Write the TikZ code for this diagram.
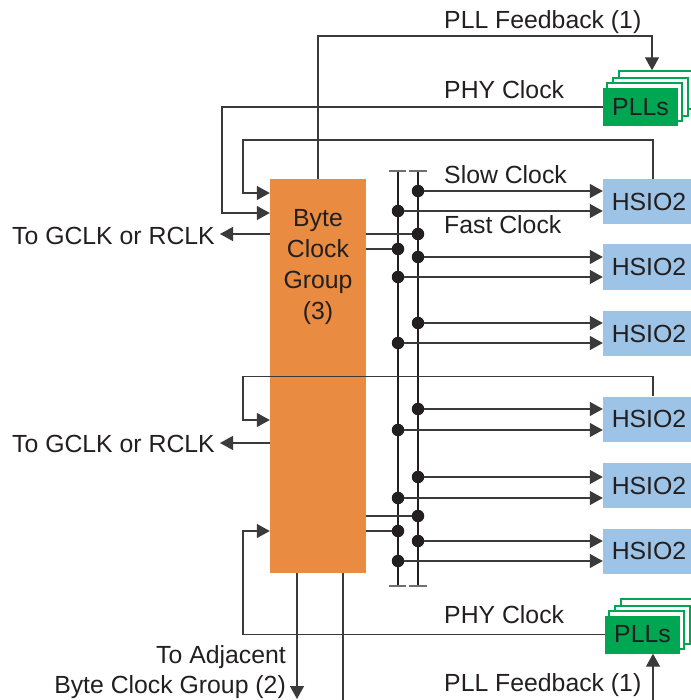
\documentclass[tikz,border=0pt]{standalone}
\usepackage{fontspec}
\setmainfont{Liberation Sans}
\usetikzlibrary{arrows.meta}
\definecolor{bytefill}{HTML}{E98B40}
\definecolor{hsiofill}{HTML}{9DC3E6}
\definecolor{pllfill}{HTML}{00A651}
\definecolor{ink}{HTML}{231F20}
\definecolor{wire}{HTML}{3A3A3A}
\definecolor{barcol}{HTML}{707070}

\begin{document}
\begin{tikzpicture}[x=1pt,y=-1pt,
  lbl/.style={inner sep=0pt, text=ink, font=\fontsize{24.8}{29}\selectfont},
  wirel/.style={draw=wire, line width=1.3pt},
  arr/.style={wirel, -{Triangle[length=13pt,width=14pt]}},
  dotc/.style={circle, fill=ink, inner sep=0pt, minimum size=12.5pt},
  hsio/.style={rectangle, fill=hsiofill, minimum width=92pt, minimum height=45pt,
    inner sep=0pt, text=ink, font=\fontsize{24.8}{29}\selectfont},
  pllfront/.style={rectangle, fill=pllfill, minimum width=75pt, minimum height=38pt,
    inner sep=0pt, text=ink, font=\fontsize{24.8}{29}\selectfont},
  pllback/.style={rectangle, fill=white, draw=pllfill, line width=1.3pt,
    minimum width=75pt, minimum height=38pt, inner sep=0pt},
  bytebox/.style={rectangle, fill=bytefill, minimum width=96pt, minimum height=394pt, inner sep=0pt},
  busbar/.style={draw=barcol, line width=1.3pt}
]
\useasboundingbox (0,0) rectangle (690,700);

% ---------- blocks ----------
\node[bytebox] (bcg) at (318,376) {};
\node[lbl, anchor=base] (bcgA) at (318,227) {Byte};
\node[lbl, anchor=base] (bcgB) at (318,258) {Clock};
\node[lbl, anchor=base] (bcgC) at (318,288.5) {Group};
\node[lbl, anchor=base] (bcgD) at (318,319) {(3)};

\node[hsio] (h1) at (649,201.5) {HSIO2};
\node[hsio] (h2) at (649,267)   {HSIO2};
\node[hsio] (h3) at (649,333.5) {HSIO2};
\node[hsio] (h4) at (649,419)   {HSIO2};
\node[hsio] (h5) at (649,485.5) {HSIO2};
\node[hsio] (h6) at (649,551)   {HSIO2};

% stacked PLL blocks, back to front
\node[pllback] (ptC) at (656.5,90) {};
\node[pllback] (ptB) at (650.5,97) {};
\node[pllback] (ptA) at (644.5,102) {};
\node[pllfront] (pt) at (640.5,107) {PLLs};

\node[pllback] (pbC) at (658.5,618) {};
\node[pllback] (pbB) at (652.5,625) {};
\node[pllback] (pbA) at (646.5,630) {};
\node[pllfront] (pb) at (642.5,634.5) {PLLs};

% ---------- clock buses ----------
\coordinate (lbT) at (398,171);
\coordinate (lbB) at (398,586);
\coordinate (rbT) at (418,171);
\coordinate (rbB) at (418,586);
\draw[wirel, draw=ink] (lbT) -- (lbB);
\draw[wirel, draw=ink] (rbT) -- (rbB);
\draw[busbar] ([xshift=-9pt]lbT) -- ([xshift=8pt]lbT);
\draw[busbar] ([xshift=-9pt]rbT) -- ([xshift=9pt]rbT);
\draw[busbar] ([xshift=-9pt]lbB) -- ([xshift=8pt]lbB);
\draw[busbar] ([xshift=-9pt]rbB) -- ([xshift=9pt]rbB);

% taps from the byte clock group onto the buses
\foreach \y/\n in {234/ra, 516/rb} {
  \node[dotc] (\n) at (418,\y) {};
  \draw[wirel] (bcg.east |- \n) -- (\n);
}
\foreach \y/\n in {249/la, 531/lb} {
  \node[dotc] (\n) at (398,\y) {};
  \draw[wirel] (bcg.east |- \n) -- (\n);
}

% slow (right bus) and fast (left bus) clocks to each HSIO2
\foreach \h/\ys/\yf in {h1/191/211, h2/257/277, h3/323/343, h4/409/430, h5/477/498, h6/541/561} {
  \node[dotc] (s\h) at (418,\ys) {};
  \node[dotc] (f\h) at (398,\yf) {};
  \draw[arr] (s\h) -- (\h.west |- s\h);
  \draw[arr] (f\h) -- (\h.west |- f\h);
}

% ---------- feedback and PHY clock paths ----------
\coordinate (fbTop) at (652,36);
\draw[arr] (bcg.north -| 318,0) -- (318,36) -- (fbTop) -- (ptC.north -| fbTop);

\draw[arr] (pt.west) -- (222,107) -- (222,213) -- (bcg.west |- 0,213);
\draw[arr] (h1.north -| 653,0) -- (653,140) -- (243,140) -- (243,193) -- (bcg.west |- 0,193);

\draw[arr] (h4.north -| 653,0) -- (653,376.5) -- (243,376.5) -- (243,420) -- (bcg.west |- 0,420);
\draw[arr] (pb.west) -- (243,634.5) -- (243,531) -- (bcg.west |- 0,531);

\coordinate (gclkA) at (220,234);
\coordinate (gclkB) at (220,443);
\draw[arr] (bcg.west |- gclkA) -- (gclkA);
\draw[arr] (bcg.west |- gclkB) -- (gclkB);

\coordinate (adjEnd) at (297,699);
\coordinate (adjLine) at (343,700);
\coordinate (fbBot) at (653,700);
\draw[arr] (bcg.south -| adjEnd) -- (adjEnd);
\draw[wirel] (bcg.south -| adjLine) -- (adjLine);
\draw[arr] (fbBot) -- (pb.south -| fbBot);

% ---------- labels ----------
\node[lbl, anchor=base west] (tPLLfbA) at (444,28.5) {PLL Feedback (1)};
\node[lbl, anchor=base west] (tPHYa) at (444,99) {PHY Clock};
\node[lbl, anchor=base west] (tSlow) at (444,184) {Slow Clock};
\node[lbl, anchor=base west] (tFast) at (444,234) {Fast Clock};
\node[lbl, anchor=base east] (tGa) at (215,244) {To GCLK or RCLK};
\node[lbl, anchor=base east] (tGb) at (215,452) {To GCLK or RCLK};
\node[lbl, anchor=base west] (tPHYb) at (444,623) {PHY Clock};
\node[lbl, anchor=base west] (tPLLfbB) at (444,691) {PLL Feedback (1)};
\node[lbl, anchor=base east] (tAdjA) at (286,663) {To Adjacent};
\node[lbl, anchor=base east] (tAdjB) at (286,693) {Byte Clock Group (2)};
\end{tikzpicture}
\end{document}
